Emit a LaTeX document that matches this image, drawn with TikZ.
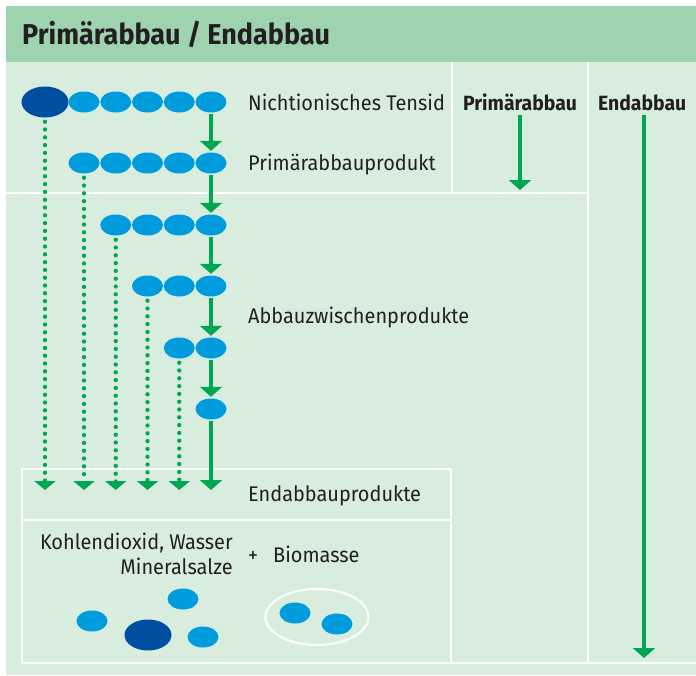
\documentclass[tikz,border=0pt]{standalone}
\usepackage{fontspec}
\setmainfont{Fira Sans}[FakeStretch=0.94]
\usetikzlibrary{arrows.meta,shapes.geometric}
\definecolor{hdr}{HTML}{9DD3AF}
\definecolor{bg}{HTML}{D9EDDF}
\definecolor{lblue}{HTML}{009CDD}
\definecolor{dblue}{HTML}{004EA0}
\definecolor{grn}{HTML}{00A651}
\definecolor{txt}{HTML}{231F20}
\tikzset{
  sm/.style={shape=ellipse, minimum width=31pt, minimum height=21pt, inner sep=0pt, fill=lblue},
  big/.style={shape=ellipse, minimum width=47pt, minimum height=31pt, inner sep=0pt, fill=dblue},
  flow/.style={draw=grn, line width=4pt, -{Triangle[width=22pt,length=10pt]}},
  dotline/.style={draw=grn, line width=4.3pt, dash pattern=on 0pt off 7.8pt, line cap=round, -{Triangle[width=21pt,length=9pt,fill=grn]}},
  sep/.style={draw=white, line width=2pt},
  lab/.style={inner sep=0pt, anchor=base west, text=txt, font=\fontsize{21.2}{24}\selectfont},
  blab/.style={inner sep=0pt, anchor=base west, text=txt, font=\fontsize{20.6}{24}\selectfont\bfseries},
}
\begin{document}
\begin{tikzpicture}[x=1pt,y=-1pt]
\useasboundingbox (0,0) rectangle (696,675);
% panel
\fill[bg] (6,6) rectangle (696,675);
\fill[hdr] (6,6) rectangle (696,62);
\node[inner sep=0pt, anchor=base west, text=txt, font=\fontsize{28.7}{32}\selectfont\bfseries] (title) at (22,44) {Primärabbau / Endabbau};
% separators
\draw[sep] (452,62) -- (452,193);
\draw[sep] (588,62) -- (588,663);
\draw[sep] (6,193) -- (588,193);
\draw[sep] (22,469) rectangle (451,663);
\draw[sep] (22,520) -- (451,520);
\draw[sep] (451,663) -- (696,663);
% chain ellipses
\foreach \r/\y/\s in {1/102/1,2/163/1,3/225/2,4/286/3,5/348/4,6/409/5}{
  \foreach \c in {\s,...,5}{
    \node[sm] (r\r-\c) at ({84+31.75*(\c-1)},\y) {};
  }
}
\node[big] (r1-0) at (45,102) {};
% solid arrows
\foreach \a/\b in {1/2,2/3,3/4,4/5,5/6}{
  \draw[flow, shorten <=1.5pt, shorten >=1.5pt] (r\a-5) -- (r\b-5);
}
\coordinate (t5) at (211,490);
\draw[flow, shorten <=1.5pt] (r6-5) -- (t5);
% dotted arrows
\coordinate (t0) at (45,490);
\coordinate (t1) at (84,490);
\coordinate (t2) at (115.75,490);
\coordinate (t3) at (147.5,490);
\coordinate (t4) at (179.25,490);
\draw[dotline] ([yshift=-4pt]r1-0.south) -- (t0);
\draw[dotline] ([yshift=-4pt]r2-1.south) -- (t1);
\draw[dotline] ([yshift=-4pt]r3-2.south) -- (t2);
\draw[dotline] ([yshift=-4pt]r4-3.south) -- (t3);
\draw[dotline] ([yshift=-4pt]r5-4.south) -- (t4);
% labels
\node[lab] (l1) at (248,110) {Nichtionisches Tensid};
\node[lab] (l2) at (248,170) {Primärabbauprodukt};
\node[lab] (l3) at (248,323) {Abbauzwischenprodukte};
\node[lab] (l4) at (248,501) {Endabbauprodukte};
\node[blab] (hp) at (463,110) {Primärabbau};
\node[blab] (he) at (598,110) {Endabbau};
% column arrows
\coordinate (pa0) at (520,115);
\coordinate (pa1) at (520,190);
\draw[flow] (pa0) -- (pa1);
\coordinate (ea0) at (644,115);
\coordinate (ea1) at (644,658);
\draw[flow] (ea0) -- (ea1);
% products
\node[inner sep=0pt, anchor=base east, text=txt, font=\fontsize{21.2}{24}\selectfont] (k1) at (233,549) {Kohlendioxid, Wasser};
\node[inner sep=0pt, anchor=base east, text=txt, font=\fontsize{21.2}{24}\selectfont] (k2) at (233,574) {Mineralsalze};
\node[lab] (plus) at (248,562) {+};
\node[lab] (bio) at (273,562) {Biomasse};
\node[sm] (b1) at (92,621) {};
\node[sm] (b2) at (183,599) {};
\node[big] (b3) at (148,635) {};
\node[sm] (b4) at (203,637) {};
\node[shape=ellipse, draw=white, line width=2pt, minimum width=103pt, minimum height=56pt, inner sep=0pt] (bioring) at (317,617) {};
\node[sm] (bb1) at (295,613) {};
\node[sm] (bb2) at (337,624) {};
\end{tikzpicture}
\end{document}
